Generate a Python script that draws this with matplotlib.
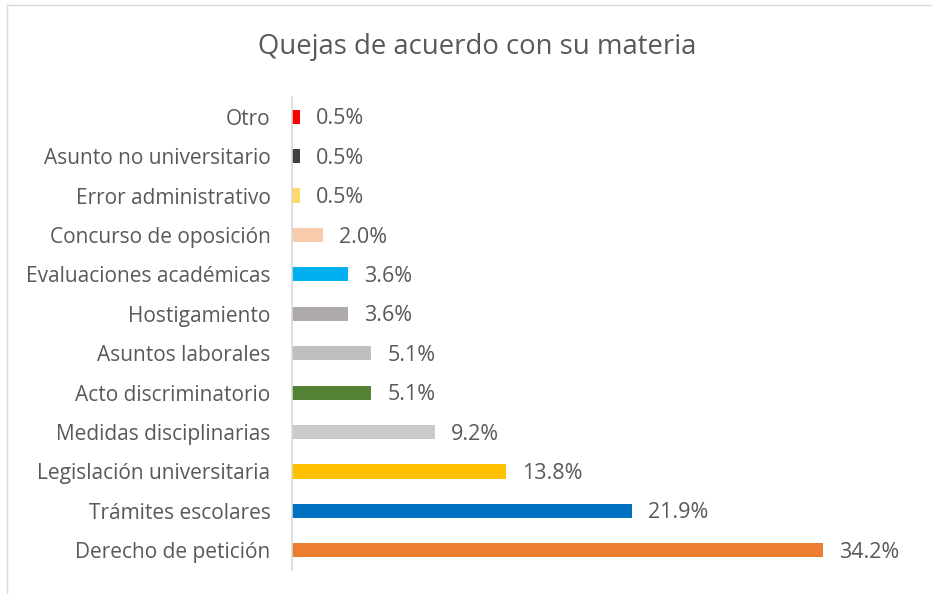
import matplotlib
matplotlib.use("Agg")
import matplotlib.pyplot as plt
from matplotlib.lines import Line2D

categories = ["Derecho de petición", "Trámites escolares", "Legislación universitaria",
              "Medidas disciplinarias", "Acto discriminatorio", "Asuntos laborales",
              "Hostigamiento", "Evaluaciones académicas", "Concurso de oposición",
              "Error administrativo", "Asunto no universitario", "Otro"]
values = [34.2, 21.9, 13.8, 9.2, 5.1, 5.1, 3.6, 3.6, 2.0, 0.5, 0.5, 0.5]
colors = ["#ED7D31", "#0070C0", "#FFC000", "#C9C9C9", "#548235", "#BFBFBF",
          "#AEAAAA", "#00B0F0", "#F8CBAD", "#FFD966", "#404040", "#FF0000"]

W, H = 932, 594
fig = plt.figure(figsize=(W / 100, H / 100), dpi=100)
fam = ["Open Sans", "DejaVu Sans"]
txt = "#595959"

left_px, right_px = 292, 913
top_px, bottom_px = 97, 570
ax = fig.add_axes([left_px / W, 1 - bottom_px / H, (right_px - left_px) / W, (bottom_px - top_px) / H])

y = list(range(len(categories)))
ax.barh(y, values, height=0.36, color=colors)
ax.set_xlim(0, 40)
ax.set_ylim(-0.5, len(categories) - 0.5)
ax.set_yticks(y)
ax.set_yticklabels(categories, fontsize=15, color=txt, family=fam)
ax.tick_params(axis="y", length=0, pad=15.5)
ax.set_xticks([])
for s in ["top", "right", "bottom"]:
    ax.spines[s].set_visible(False)
ax.spines["left"].set_color("#D9D9D9")
ax.spines["left"].set_linewidth(1.2)

for yi, v in zip(y, values):
    ax.annotate(f"{v:.1f}%", (v, yi), xytext=(11.5, -1.5), textcoords="offset points",
                va="center", ha="left", fontsize=15.5, color=txt, family=fam)

fig.text(477 / W, 1 - 47 / H, "Quejas de acuerdo con su materia", ha="center", va="center",
         fontsize=19.8, color=txt, family=fam)

# chart border (top and left visible)
fig.add_artist(Line2D([7 / W, 1], [1 - 5 / H, 1 - 5 / H], transform=fig.transFigure, color="#D9D9D9", lw=1))
fig.add_artist(Line2D([7 / W, 7 / W], [0, 1 - 5 / H], transform=fig.transFigure, color="#D9D9D9", lw=1))

fig.savefig("out.png", dpi=100)
